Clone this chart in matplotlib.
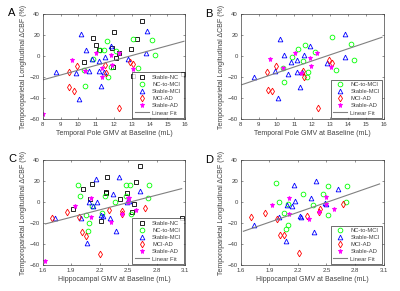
import matplotlib
matplotlib.use("Agg")
import matplotlib.pyplot as plt
import numpy as np

# ---------------- Data ----------------
# Panel A (Temporal Pole GMV)
A_nc_x = [13.57, 12.02, 13.31, 10.84, 11.01, 11.16, 11.89, 12.28, 12.93, 12.13, 10.34, 11.93, 13.07, 15.89]
A_nc_y = [33.7, 23.3, 16.0, 17.6, 10.9, 5.9, 8.1, 3.3, 7.1, -2.1, -5.9, -10.0, -18.5, -16.9]
A_ncm_x = [11.61, 13.07, 14.15, 14.30, 11.21, 11.44, 12.13, 10.84, 11.81, 11.66, 13.33, 10.37, 10.30]
A_ncm_y = [14.7, 16.3, 15.7, 1.4, 5.9, 5.9, 5.2, -3.0, -10.6, -19.5, -10.9, -28.0, -13.1]
A_mci_x = [10.13, 13.83, 10.45, 10.77, 11.16, 11.83, 11.48, 12.79, 13.81, 8.73, 9.89, 10.58, 11.16, 11.42, 11.29, 10.06]
A_mci_y = [21.0, 23.9, 5.9, -3.0, -4.6, 10.0, -0.5, -2.7, 2.7, -14.7, -15.7, -14.1, -14.1, -15.0, -28.0, -40.3]
A_ad_x = [9.46, 9.93, 9.50, 9.76, 12.30, 11.48, 11.55, 12.90, 13.05]
A_ad_y = [-14.7, -9.0, -29.3, -32.8, -49.2, -8.4, -15.7, -5.9, -7.8]
A_sad_x = [8.02, 9.63, 10.39, 11.01, 11.33, 11.31, 11.87, 11.85, 12.26, 13.07]
A_sad_y = [-55.0, -3.3, -14.1, 3.3, -10.9, -19.8, -8.4, 1.4, 3.3, -12.2]
A_fit_x = [8.0, 15.93]
A_fit_y = [-22.6, 14.1]

# Panel B (Temporal Pole GMV, no Stable-NC)
B_ncm_x = [13.11, 14.18, 14.32, 13.34, 11.19, 11.62, 12.16, 10.87, 11.49, 11.79, 11.69, 10.41, 10.37]
B_ncm_y = [18.5, 11.9, -3.3, -12.8, 7.1, 10.9, 4.0, -1.1, -4.6, -15.0, -19.5, -24.8, -10.9]
B_mci_x = [10.18, 13.84, 10.44, 10.80, 11.17, 11.53, 11.86, 12.85, 13.86, 8.75, 9.92, 10.65, 11.17, 11.43, 11.32, 10.09]
B_mci_y = [16.0, 20.7, 1.4, -5.5, -3.3, 1.4, 9.6, -6.2, -0.8, -19.8, -14.1, -16.6, -15.0, -15.0, -29.0, -39.4]
B_ad_x = [9.49, 9.96, 9.53, 9.77, 12.33, 11.51, 11.56, 12.93, 13.09]
B_ad_y = [-15.3, -9.3, -32.1, -33.4, -48.9, -13.8, -19.8, -3.6, -6.8]
B_sad_x = [9.66, 10.39, 11.04, 11.36, 11.88, 11.92, 12.27, 13.04]
B_sad_y = [-2.7, -10.9, 3.3, -16.3, -1.4, -9.0, 2.7, -10.3]
B_fit_x = [8.07, 15.91]
B_fit_y = [-27.1, 17.9]

# Panel C (Hippocampal GMV)
C_nc_x = [2.621, 2.275, 2.586, 2.123, 2.028, 2.268, 2.268, 2.409, 2.487, 2.098, 1.914, 2.565, 2.543, 2.218, 3.066]
C_nc_y = [34.6, 23.8, 19.0, 17.8, 12.4, 10.2, 8.6, 3.5, 9.2, 2.9, -6.0, -1.3, -9.5, -18.1, -15.2]
C_ncm_x = [1.967, 1.996, 2.254, 2.476, 2.522, 2.717, 2.710, 2.356, 2.473, 2.116, 2.059, 2.091, 2.077, 2.229, 2.526]
C_ncm_y = [16.8, 5.7, 6.0, 16.8, 16.5, 16.8, 4.4, 0.3, 6.3, -3.2, -11.7, -20.0, -27.3, -9.8, -11.1]
C_mci_x = [2.158, 2.399, 2.621, 2.335, 2.172, 2.091, 2.134, 2.490, 2.505, 1.734, 1.999, 2.215, 2.232, 2.307, 2.371, 2.070]
C_mci_y = [22.2, 23.8, 11.1, 7.6, 0.6, 0.0, -3.5, 0.6, 1.3, -14.6, -15.2, -12.1, -13.3, -14.6, -27.0, -39.0]
C_ad_x = [1.699, 1.854, 1.982, 2.010, 2.052, 2.208, 2.300, 2.434, 2.681, 2.430]
C_ad_y = [-14.6, -8.9, -14.0, -27.9, -31.7, -49.2, -7.3, -8.3, -5.1, -11.4]
C_sad_x = [1.621, 1.936, 2.109, 2.105, 2.317, 2.430, 2.497, 2.497, 2.586, 2.505]
C_sad_y = [-55.9, -3.2, 4.1, -14.0, -19.0, -11.1, 3.8, 0.6, -7.3, 4.4]
C_fit_x = [1.628, 3.063]
C_fit_y = [-20.6, 13.0]

# Panel D (Hippocampal GMV, no Stable-NC)
D_ncm_x = [1.967, 2.520, 2.712, 2.254, 2.464, 1.999, 2.355, 2.701, 2.055, 2.520, 2.093, 2.076, 2.100]
D_ncm_y = [18.1, 15.6, 15.9, 8.3, 7.9, 0.3, -2.2, 0.3, -10.2, -11.7, -21.3, -25.1, -1.5]
D_mci_x = [2.160, 2.390, 2.621, 2.334, 2.173, 2.090, 2.138, 2.481, 2.500, 1.736, 1.999, 2.222, 2.236, 2.366, 2.072]
D_mci_y = [16.5, 20.0, 13.0, 4.4, 1.6, -2.9, -3.5, -0.3, -1.3, -21.6, -14.0, -12.7, -13.7, -27.9, -36.5]
D_ad_x = [1.705, 1.859, 1.985, 2.016, 2.055, 2.208, 2.299, 2.432, 2.677, 2.420]
D_ad_y = [-14.3, -10.2, -15.6, -31.1, -31.1, -48.6, -12.7, -6.7, -1.6, -9.5]
D_sad_x = [1.932, 2.110, 2.110, 2.313, 2.422, 2.499, 2.499, 2.583]
D_sad_y = [-2.9, 4.1, -10.8, -15.9, -9.5, 4.8, -1.9, -6.7]
D_fit_x = [1.628, 3.058]
D_fit_y = [-27.6, 17.5]

group_labels = ["Stable-NC", "NC-to-MCI", "Stable-MCI", "MCI-AD", "Stable-AD"]
y_ticks = [-60, -40, -20, 0, 20, 40]
xticks_tp = [8, 9, 10, 11, 12, 13, 14, 15, 16]
xticks_hc = [1.6, 1.9, 2.2, 2.5, 2.8, 3.1]
xticklabels_hc = ["1.6", "1.9", "2.2", "2.5", "2.8", "3.1"]
ylabel = "Temporoparietal Longitudinal \u0394CBF (%)"
xlabel_tp = "Temporal Pole GMV at Baseline (mL)"
xlabel_hc = "Hippocampal GMV at Baseline (mL)"

# ---------------- Styles ----------------
styles = {
    "Stable-NC": dict(marker="s", mfc="none", mec="black", ms=3.0, mew=0.6),
    "NC-to-MCI": dict(marker="o", mfc="none", mec=(0, 1, 0), ms=3.4, mew=0.6),
    "Stable-MCI": dict(marker="^", mfc="none", mec=(0, 0, 1), ms=3.4, mew=0.6),
    "MCI-AD": dict(marker="d", mfc="none", mec=(1, 0, 0), ms=3.4, mew=0.6),
    "Stable-AD": dict(marker="*", mfc=(1, 0, 1), mec=(1, 0, 1), ms=3.6, mew=0.6),
}

plt.rcParams["font.family"] = ["Liberation Sans", "DejaVu Sans"]
fig = plt.figure(figsize=(4.0, 2.91), dpi=100)

W, H = 400.0, 291.0
def make_ax(l, r, t, b):
    return fig.add_axes([l / W, 1 - b / H, (r - l) / W, (b - t) / H])

axA = make_ax(42.7, 185.2, 14.0, 119.3)
axB = make_ax(240.7, 383.6, 14.0, 119.3)
axC = make_ax(42.7, 185.2, 160.3, 265.3)
axD = make_ax(240.7, 383.6, 160.3, 265.3)

panels = [
    (axA, "A", [(A_nc_x, A_nc_y), (A_ncm_x, A_ncm_y), (A_mci_x, A_mci_y), (A_ad_x, A_ad_y), (A_sad_x, A_sad_y)],
     group_labels, (A_fit_x, A_fit_y), "tp"),
    (axB, "B", [(B_ncm_x, B_ncm_y), (B_mci_x, B_mci_y), (B_ad_x, B_ad_y), (B_sad_x, B_sad_y)],
     group_labels[1:], (B_fit_x, B_fit_y), "tp"),
    (axC, "C", [(C_nc_x, C_nc_y), (C_ncm_x, C_ncm_y), (C_mci_x, C_mci_y), (C_ad_x, C_ad_y), (C_sad_x, C_sad_y)],
     group_labels, (C_fit_x, C_fit_y), "hc"),
    (axD, "D", [(D_ncm_x, D_ncm_y), (D_mci_x, D_mci_y), (D_ad_x, D_ad_y), (D_sad_x, D_sad_y)],
     group_labels[1:], (D_fit_x, D_fit_y), "hc"),
]

axcol = (0.25, 0.25, 0.25)
for ax, letter, groups, labels, fit, kind in panels:
    for (gx, gy), lab in zip(groups, labels):
        ax.plot(gx, gy, linestyle="none", label=lab, **styles[lab])
    ax.plot(fit[0], fit[1], color=(0.5, 0.5, 0.5), lw=0.8, label="Linear Fit")
    ax.set_ylim(-60, 40)
    ax.set_yticks(y_ticks)
    if kind == "tp":
        ax.set_xlim(8, 16)
        ax.set_xticks(xticks_tp)
        ax.set_xlabel(xlabel_tp, fontsize=5, color=axcol, labelpad=2)
    else:
        ax.set_xlim(1.6, 3.1)
        ax.set_xticks(xticks_hc)
        ax.set_xticklabels(xticklabels_hc)
        ax.set_xlabel(xlabel_hc, fontsize=5, color=axcol, labelpad=2)
    ax.set_ylabel(ylabel, fontsize=5, color=axcol, labelpad=2)
    ax.tick_params(direction="in", length=1.5, width=0.4, labelsize=4.3, colors=axcol,
                   top=True, right=True, pad=2)
    for sp in ax.spines.values():
        sp.set_linewidth(0.5)
        sp.set_color(axcol)
    leg = ax.legend(loc="lower right", fontsize=4.2, frameon=True, fancybox=False,
                    borderaxespad=0.25, handlelength=2.4, labelspacing=0.35,
                    borderpad=0.4, handletextpad=0.6)
    leg.get_frame().set_edgecolor("black")
    leg.get_frame().set_linewidth(0.5)
    for t in leg.get_texts():
        t.set_color(axcol)

fig.text(12 / W, 1 - 13 / H, "A", fontsize=8, ha="center", va="center")
fig.text(209 / W, 1 - 14 / H, "B", fontsize=8, ha="center", va="center")
fig.text(12 / W, 1 - 159 / H, "C", fontsize=8, ha="center", va="center")
fig.text(209 / W, 1 - 160 / H, "D", fontsize=8, ha="center", va="center")

fig.savefig("out.png", dpi=100)
